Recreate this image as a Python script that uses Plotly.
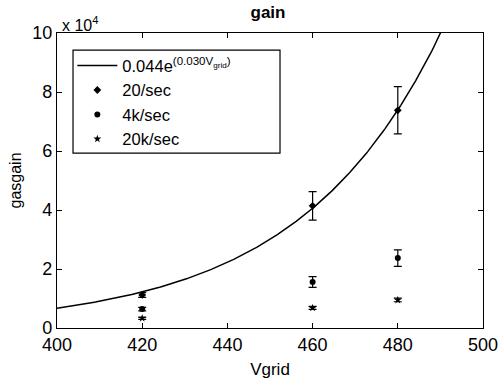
import numpy as np
import plotly.graph_objects as go

# Data (gasgain values, absolute)
vgrid = [420, 460, 480]
g20 = [1.12e4, 4.14e4, 7.38e4]
g20_err = [0.08e4, 0.48e4, 0.80e4]
g4k = [0.64e4, 1.56e4, 2.37e4]
g4k_err = [0.06e4, 0.18e4, 0.28e4]
g20k = [0.33e4, 0.68e4, 0.95e4]
g20k_err = [0.04e4, 0.05e4, 0.06e4]

# exponential fit curve as drawn in the picture (legend shows rounded 0.044 / 0.030)
fit_a = 0.0412
fit_b = 0.030
fit_label = "0.044e<sup>(0.030V<sub>grid</sub>)</sup>"
x_ticks = [400, 420, 440, 460, 480, 500]
y_ticks = [0, 2e4, 4e4, 6e4, 8e4, 10e4]
y_ticktext = ["0", "2", "4", "6", "8", "10"]

xf = np.linspace(400, 500, 400)
yf = fit_a * np.exp(fit_b * xf)

FONT = "Liberation Sans, Arial, sans-serif"

fig = go.Figure()
fig.add_trace(go.Scatter(x=xf, y=yf, mode="lines", line=dict(color="black", width=1.5),
                         name=fit_label))
eb = lambda e: dict(type="data", array=e, color="black", thickness=1.2, width=4)
fig.add_trace(go.Scatter(x=vgrid, y=g20, mode="markers", name="20/sec",
                         marker=dict(symbol="diamond", size=6, color="black"),
                         error_y=eb(g20_err)))
fig.add_trace(go.Scatter(x=vgrid, y=g4k, mode="markers", name="4k/sec",
                         marker=dict(symbol="circle", size=6, color="black"),
                         error_y=eb(g4k_err)))
fig.add_trace(go.Scatter(x=vgrid, y=g20k, mode="markers", name="20k/sec",
                         marker=dict(symbol="star", size=6, color="black"),
                         error_y=eb(g20k_err)))

axis_common = dict(showline=True, linecolor="black", linewidth=1.2, mirror="ticks",
                   ticks="inside", ticklen=5, tickcolor="black", showgrid=False,
                   zeroline=False, automargin=False,
                   tickfont=dict(family=FONT, size=18, color="black"))

fig.update_layout(
    width=500, height=381,
    margin=dict(l=57, r=17, t=33, b=53),
    paper_bgcolor="white", plot_bgcolor="white",
    font=dict(family=FONT, color="black"),
    title=dict(text="<b>gain</b>", x=0.536, xanchor="center", y=0.985, yanchor="top",
               font=dict(family=FONT, size=17, color="black")),
    xaxis=dict(range=[400, 500], tickvals=x_ticks,
               title=dict(text="Vgrid", font=dict(family=FONT, size=17), standoff=9),
               **axis_common),
    yaxis=dict(range=[0, 10e4], tickvals=y_ticks, ticktext=y_ticktext,
               title=dict(text="gasgain", font=dict(family=FONT, size=16), standoff=6),
               **axis_common),
    legend=dict(x=0.036, y=0.948, xanchor="left", yanchor="top",
                bgcolor="rgba(0,0,0,0)", borderwidth=0,
                font=dict(family=FONT, size=16.5, color="black"),
                itemwidth=40, tracegroupgap=0),
    showlegend=True,
)
# legend frame
fig.add_shape(type="rect", xref="paper", yref="paper", x0=0.0376, x1=0.5235,
              y0=0.593, y1=0.942, line=dict(color="black", width=1.2), fillcolor="white",
              layer="below")
fig.add_annotation(text="x 10<sup>4</sup>", xref="paper", yref="paper", x=0.008, y=1.0,
                   xanchor="left", yanchor="bottom", showarrow=False,
                   font=dict(family=FONT, size=16, color="black"), yshift=-3)

fig.write_html("out.html")
